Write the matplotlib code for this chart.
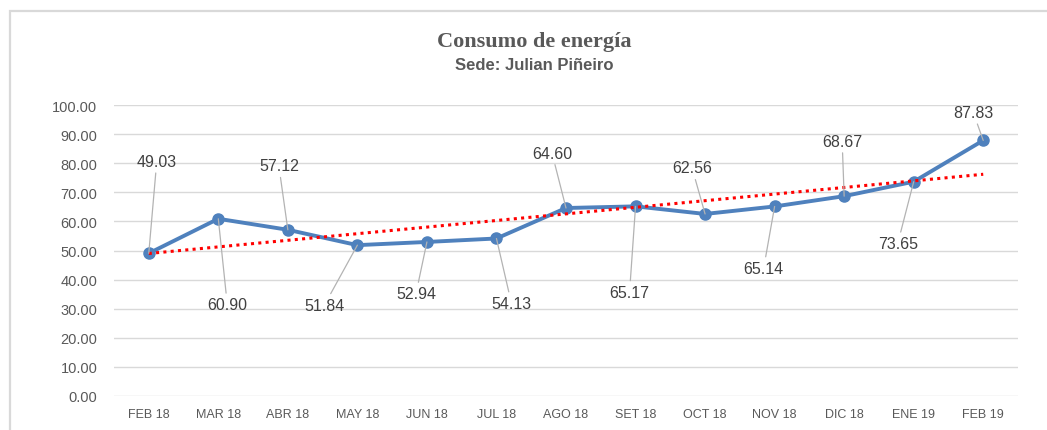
import numpy as np
import matplotlib.pyplot as plt
from matplotlib.patches import Rectangle

# Datos
meses = ["FEB 18", "MAR 18", "ABR 18", "MAY 18", "JUN 18", "JUL 18", "AGO 18",
         "SET 18", "OCT 18", "NOV 18", "DIC 18", "ENE 19", "FEB 19"]
consumo = [49.03, 60.90, 57.12, 51.84, 52.94, 54.13, 64.60,
           65.17, 62.56, 65.14, 68.67, 73.65, 87.83]

# desplazamiento de las etiquetas (pixeles)
offsets = [(8, 92), (9, -86), (-9, 64), (-33, -60), (-11, -52), (15, -65), (-14, 55),
           (-6, -86), (-13, 46), (-11, -62), (-2, 55), (-16, -62), (-10, 28)]

gris = "#595959"
x = np.arange(len(meses))

fig = plt.figure(figsize=(10.47, 4.31), dpi=100)
ax = fig.add_axes([114 / 1047, 1 - 397 / 431, (1018 - 114) / 1047, (397 - 106) / 431])

# marco del grafico
fig.patches.append(Rectangle((10 / 1047, -0.1), 1.2, 1.1 - 12 / 431,
                             transform=fig.transFigure, fill=False,
                             edgecolor="#d9d9d9", lw=1.6))

# tendencia lineal
m, b = np.polyfit(x, consumo, 1)
ax.plot(x, m * x + b, color="red", lw=2.2, linestyle=(0, (1, 1.4)), zorder=4)

ax.plot(x, consumo, color="#4f81bd", lw=2.8, marker="o", ms=8, zorder=3)

for xi, yi, (dx, dy) in zip(x, consumo, offsets):
    ax.annotate(f"{yi:.2f}", (xi, yi), xytext=(dx, dy), textcoords="offset pixels",
                ha="center", va="center", fontsize=11.5, color="#404040",
                family="Liberation Sans",
                arrowprops=dict(arrowstyle="-", color="#b3b3b3", lw=0.9,
                                shrinkA=1, shrinkB=0), zorder=5)

ax.set_xlim(-0.5, 12.5)
ax.set_ylim(0, 100)
ax.set_yticks(np.arange(0, 101, 10))
ax.set_yticklabels([f"{v:.2f}" for v in np.arange(0, 101, 10)],
                   fontsize=10.5, color=gris, family="Liberation Sans")
ax.set_xticks(x)
ax.set_xticklabels(meses, fontsize=9, color=gris, family="Liberation Sans")
ax.tick_params(length=0, pad=9)
ax.tick_params(axis="y", pad=12)
ax.grid(axis="y", color="#d9d9d9", lw=1)
ax.set_axisbelow(True)
for s in ax.spines.values():
    s.set_visible(False)

fig.text(534 / 1047, 1 - 42 / 431, "Consumo de energía", ha="center", va="center",
         fontsize=16, fontweight="bold", color=gris, family="Liberation Serif")
fig.text(534 / 1047, 1 - 66 / 431, "Sede: Julian Piñeiro", ha="center", va="center",
         fontsize=12, fontweight="bold", color=gris, family="Liberation Sans")

fig.savefig("out.png", dpi=100)
